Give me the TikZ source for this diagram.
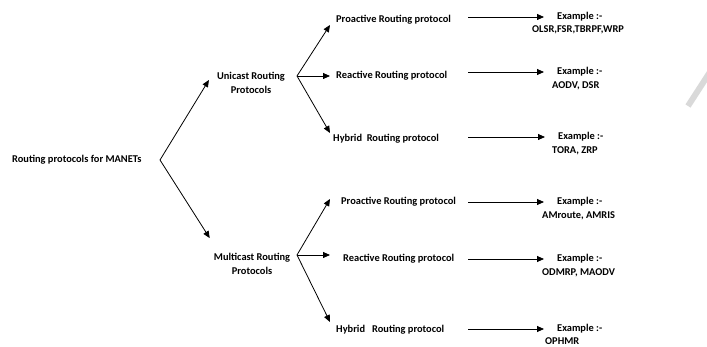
\documentclass[tikz,border=0pt]{standalone}
\usepackage{fontspec}
\setmainfont{Carlito}
\usetikzlibrary{arrows.meta,calc}

\begin{document}
\begin{tikzpicture}[x=1pt,y=-1pt,
  txt/.style={font=\bfseries\fontsize{10.4}{14}\selectfont,inner sep=1pt},
  arr/.style={line width=0.8pt,-{Triangle[length=7pt,width=6pt]}}]
\useasboundingbox (0,0) rectangle (707,347);
% faint grey stroke at the right edge
\draw[gray!30,line width=6pt] (688,106) -- (710,72);
% root and the two families
\node[txt,anchor=west] (root) at (11,160) {Routing protocols for MANETs};
\node[txt,align=center] (uni) at (251,83) {Unicast Routing\\Protocols};
\node[txt,align=center] (mul) at (252,264) {Multicast Routing\\Protocols};
\coordinate (rfork) at (160,160);
\draw[arr] (rfork) -- ($(uni.west)+(-7,-3)$);
\draw[arr] (rfork) -- ($(mul.north west)+(-3,-14)$);
% unicast kinds
\node[txt,anchor=west] (pro1) at (335,20) {Proactive Routing protocol};
\node[txt,anchor=west] (rea1) at (335,76) {Reactive Routing protocol};
\node[txt,anchor=west] (hyb1) at (332,139) {Hybrid\ \ Routing protocol};
\coordinate (ufork) at (297,76);
\draw[arr] (ufork) -- ($(pro1.west)+(-5,5)$);
\draw[arr] (ufork) -- ($(rea1.west)+(-5,0)$);
\draw[arr] (ufork) -- ($(hyb1.west)+(-2,-6)$);
% multicast kinds
\node[txt,anchor=west] (pro2) at (340,202) {Proactive Routing protocol};
\node[txt,anchor=west] (rea2) at (342,259) {Reactive Routing protocol};
\node[txt,anchor=west] (hyb2) at (335,330) {Hybrid\ \ \ Routing protocol};
\coordinate (mfork) at (297,255);
\draw[arr] (mfork) -- ($(pro2.west)+(-10,-3)$);
\draw[arr] (mfork) -- ($(rea2.west)+(-12,-4)$);
\draw[arr] (mfork) -- ($(hyb2.west)+(-5,-8)$);
% examples, first line and list below
\node[txt,anchor=west] (ex1) at (556,17) {Example :-};
\node[txt,anchor=west] (ls1) at (531,30) {OLSR,FSR,TBRPF,WRP};
\node[txt,anchor=west] (ex2) at (556,72) {Example :-};
\node[txt,anchor=west] (ls2) at (551,86) {AODV, DSR};
\node[txt,anchor=west] (ex3) at (557,137) {Example :-};
\node[txt,anchor=west] (ls3) at (551,151) {TORA, ZRP};
\node[txt,anchor=west] (ex4) at (556,202) {Example :-};
\node[txt,anchor=west] (ls4) at (541,216) {AMroute, AMRIS};
\node[txt,anchor=west] (ex5) at (556,259) {Example :-};
\node[txt,anchor=west] (ls5) at (541,273) {ODMRP, MAODV};
\node[txt,anchor=west] (ex6) at (556,329) {Example :-};
\node[txt,anchor=west] (ls6) at (544,341) {OPHMR};
% long arrows all start on one column
\coordinate (arrx) at (468,0);
\draw[arr,shorten >=12pt] (ex1 -| arrx) -- (ex1.west);
\draw[arr,shorten >=12pt] (ex2 -| arrx) -- (ex2.west);
\draw[arr,shorten >=12pt] (ex3 -| arrx) -- (ex3.west);
\draw[arr,shorten >=12pt] (ex4 -| arrx) -- (ex4.west);
\draw[arr,shorten >=12pt] (ex5 -| arrx) -- (ex5.west);
\draw[arr,shorten >=12pt] (ex6 -| arrx) -- (ex6.west);
\end{tikzpicture}
\end{document}
